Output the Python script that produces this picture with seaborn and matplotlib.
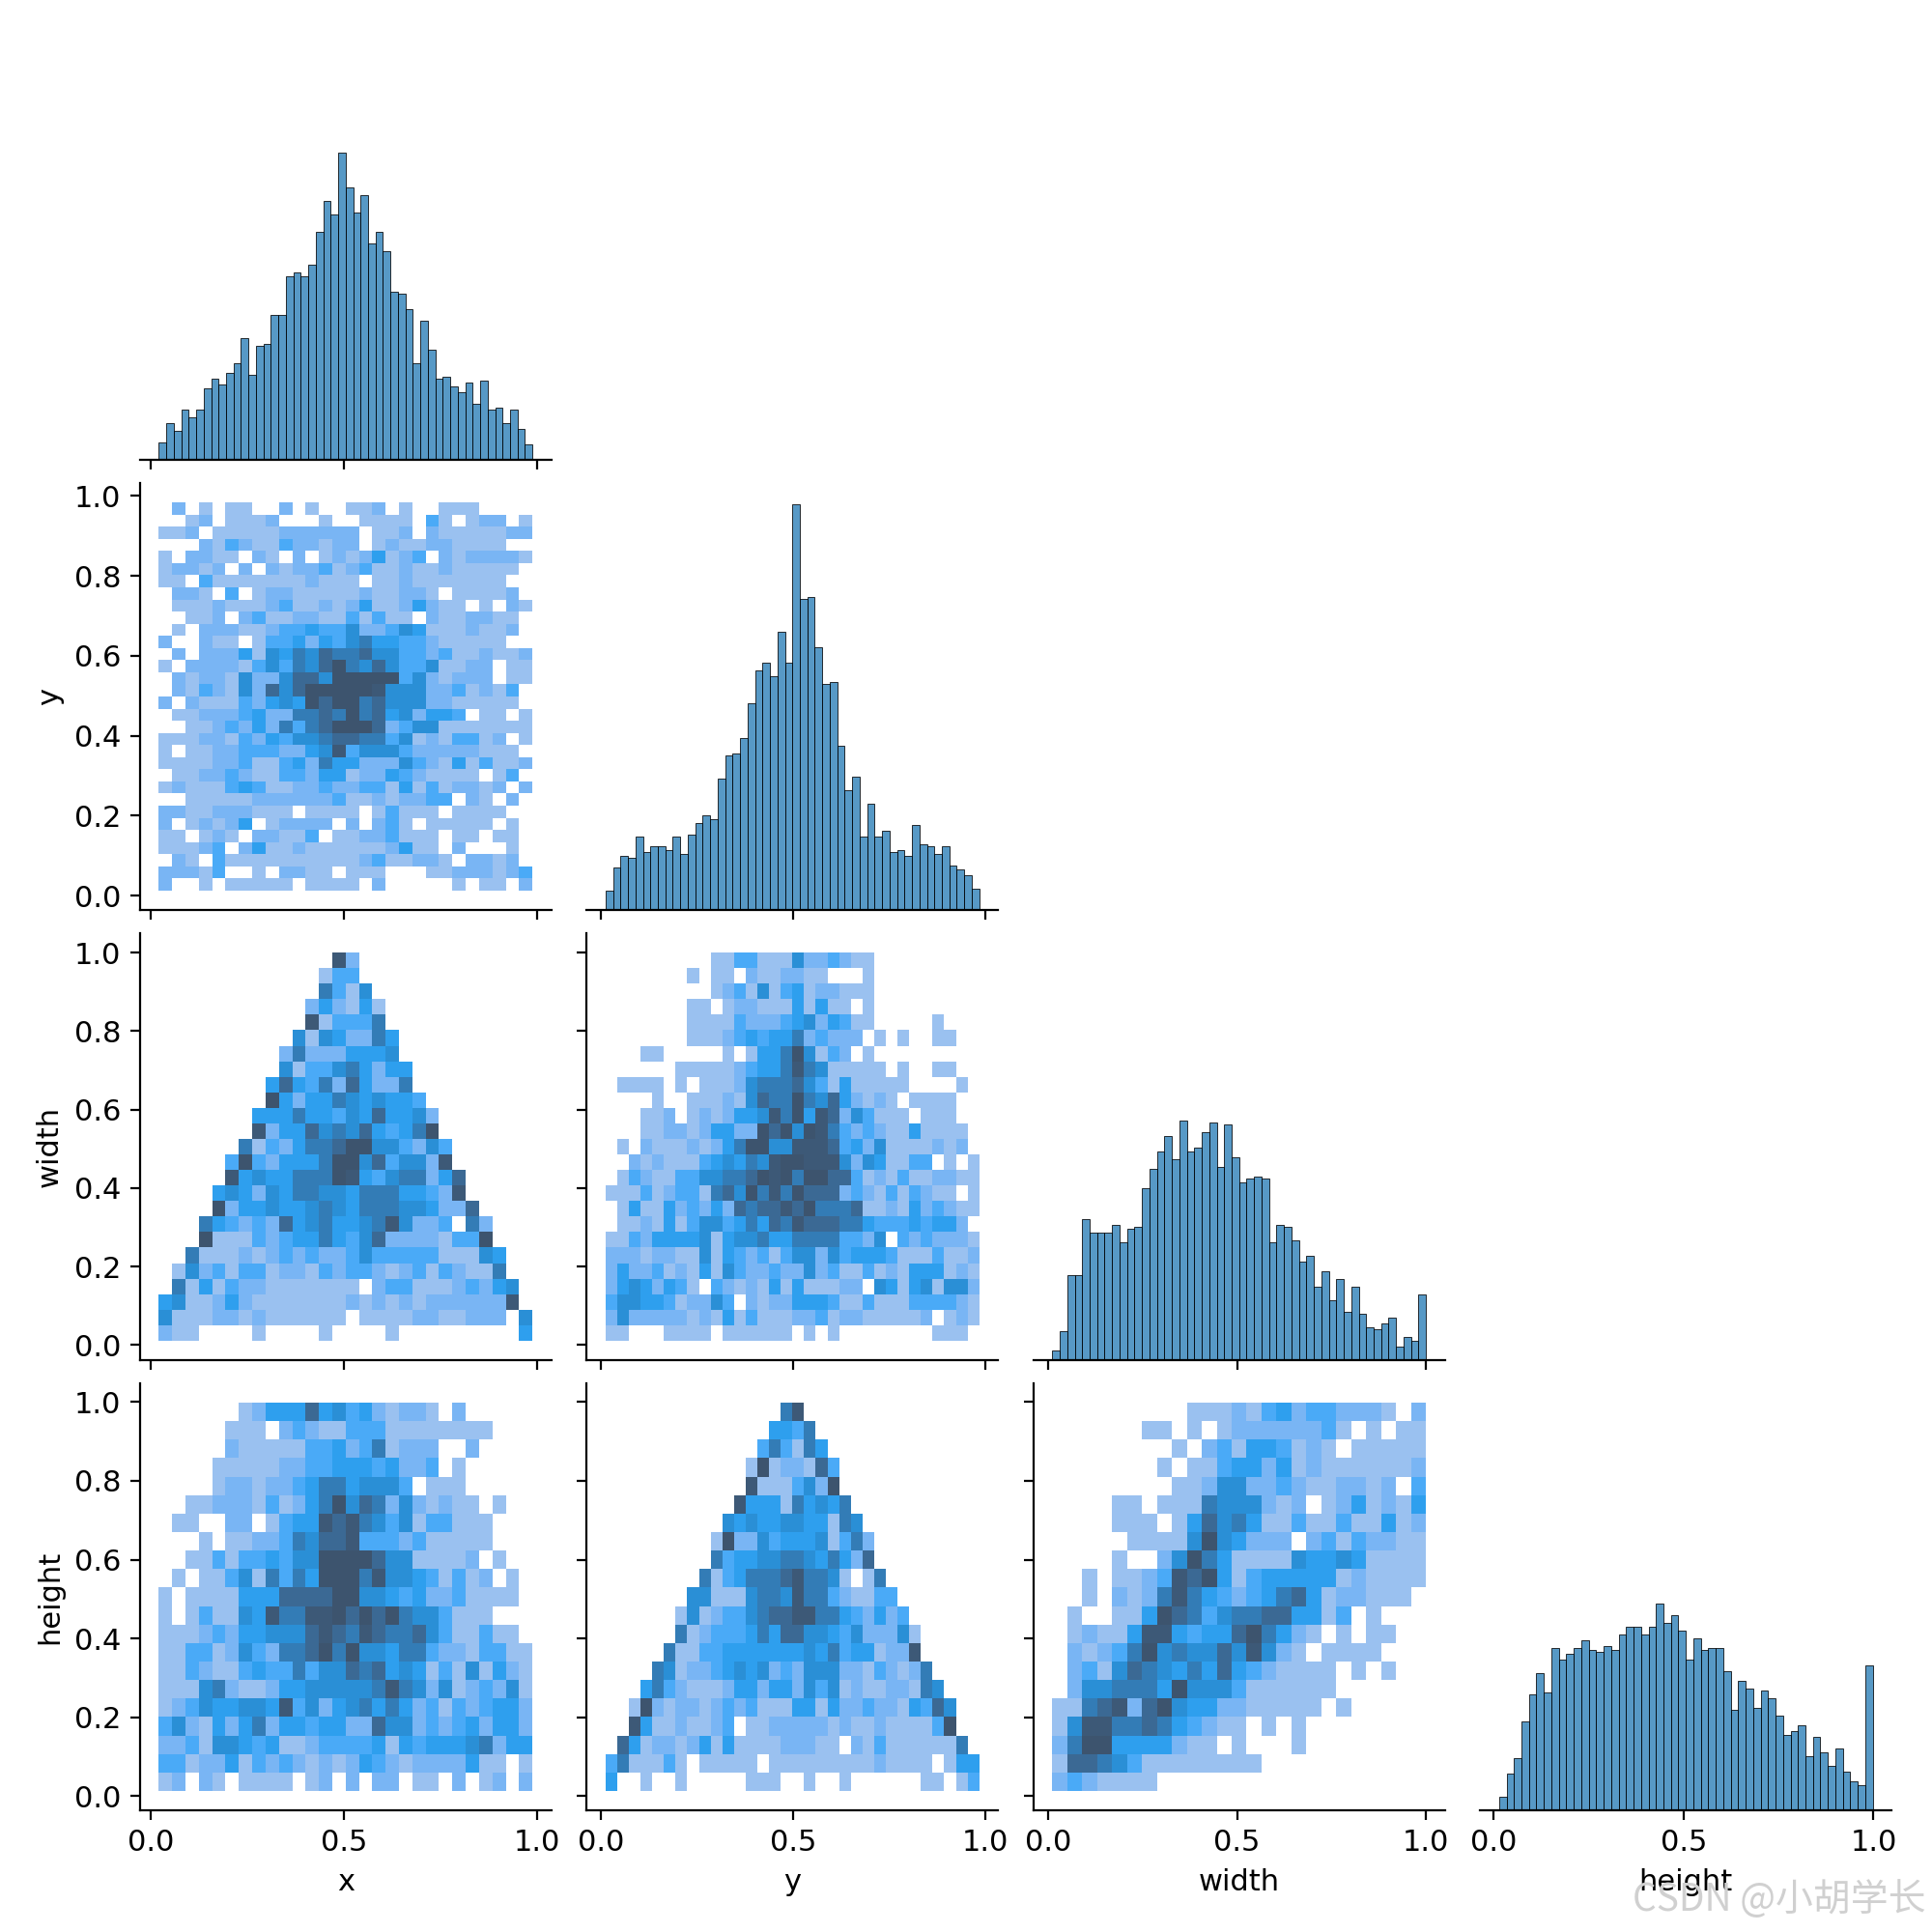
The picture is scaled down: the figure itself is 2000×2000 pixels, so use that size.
import numpy as np
import matplotlib
matplotlib.use("Agg")
import matplotlib.pyplot as plt
import seaborn as sns

plt.rcParams["font.size"] = 11

variables = ["x", "y", "width", "height"]

# bin ranges
bin_range = {"x": (0.020, 0.989), "y": (0.0126, 0.984), "width": (0.011, 1.0), "height": (0.0136, 0.998)}
# number of 2D bins per variable
grid_bins = {"x": 28, "y": 32, "width": 25, "height": 21}

# diagonal histograms, 50 bins
x_counts = [9,19,15,26,22,26,37,42,39,45,50,63,44,59,60,75,75,95,97,95,101,118,134,127,159,141,128,137,112,118,108,87,86,78,50,72,57,42,43,38,35,40,29,41,26,27,19,26,16,8]
y_counts = [10,22,28,27,38,30,33,33,31,38,29,39,45,49,47,68,80,81,89,107,124,128,121,144,128,210,161,162,136,117,118,85,62,69,38,55,38,41,30,31,28,44,34,33,29,33,23,21,18,11]
width_counts = [5,15,44,44,73,66,66,66,70,61,68,69,89,99,108,116,104,124,108,110,118,123,100,122,105,92,94,95,94,61,70,69,62,51,54,38,46,31,42,25,38,24,17,16,19,22,7,12,10,34]
height_counts = [7,19,27,46,60,71,61,84,78,81,84,88,83,82,85,83,91,95,95,91,95,107,97,101,93,78,89,83,84,84,72,52,67,63,53,62,58,49,39,41,44,28,38,30,23,32,20,15,13,75]

# shade read for each digit in the cell rows below
shade_levels = [0, 3, 8, 13, 17, 23, 30, 37, 43, 45]
shade_max = 45

# 2D cells, top row first, left to right
x_y = [
"0201011002010011201001110000",
"0012011120001001111031012201",
"1120111112222220112021111122",
"0002132113221220121122111100",
"1022110210201212412302122221",
"1221202021223123112112111110",
"1103111111121110112111111100",
"0221030122111112112210111120",
"0111211123112124112421101021",
"0011202311221131311021122110",
"0102221123343352235411121120",
"2002110133424356443321111100",
"0202224154657667553323112112",
"1022221353657965753351122011",
"0212215225775999993521222011",
"0213215275799999855522312130",
"2021113245497996755522111110",
"0112223422667696745244301101",
"0011232426367999723551111111",
"1112213243556776635121331201",
"1011223332245835553222221110",
"1111223113426442225321413112",
"0112232113324412243211110130",
"1211134311223223314131221202",
"0011111222222311212233021020",
"2211222111011110131110111100",
"2012124012222020231011111010",
"1101210221130112231110110110",
"1112302411211111124110200010",
"0210311111111112311221022120",
"2221300102211011100011222123",
"2001011111011110200000101102",
]
x_width = [
"000000000000082",
"000000000000133",
"0000000000006315",
"00000000000242141",
"00000000000813336",
"000000000051542264",
"000000000262224445",
"0000000005133564244",
"0000000047436274226",
"00000000942446545443",
"000000044464435474452",
"000000082447565743469",
"0000006132466799553253",
"0000039324446995735528",
"00000845446669843566247",
"00004542546655466644328",
"000092445445654666554227",
"0006432327456445685223062",
"0009111323446435722221339",
"00611121232322353333311154",
"01523133122132332123132116",
"061413221111111023311123245",
"451124211111112121212222228",
"5111221211111101111221122205",
"2110000100001000010000000004",
]
y_width = [
"00000000011331115223211",
"00000001011021122110001",
"00000000012315134122111",
"00000001101221114141101",
"00000001111322234524311000001",
"000000011123434462322201010011",
"00011000001014469513201",
"000000111112344686511111010011",
"0111101011125666753141111100001",
"000010011121576696574212101111",
"000112012124458694872531110111",
"0001122124422979598632321141111",
"0102111212469955888734251111212",
"00212111345465899888525411330101",
"01321133556679896997731213112211",
"11131233167596869777232131321101",
"01411423242767787966671121423211",
"01121413553464768777664333434420",
"11324444514556446666332503232221",
"22212211514323135525344431113112",
"24223121415322322523113121444121",
"24542431032121414111220541451552",
"35544312253021224443113111333321",
"25222221214131112231221111120121",
"11000111101111110101000000001110",
]
x_height = [
"00000012444745342122102",
"0000011102321133311111111",
"000002111113342361222002",
"00001111122334443422301",
"00001221223466455530111",
"00112221312469576252121101",
"0110022013448786535133111",
"0001011223657783332311111",
"00113133435599997551111201",
"010113516364999685543131201",
"101111444777799554342231111",
"1013115486688979796553111",
"111232445557876876675311311",
"1133125326679695546632213311",
"1132113433635576745413151421",
"1115621124455555686525123251",
"1235445548352456464231323442",
"3521424624434422755232342442",
"2231554341123333414344456244",
"3312241323212124321222241101",
"1202101111012020220110201202",
]
y_height = [
"00000000000000068",
"000000000000004436",
"0000000000000363164",
"00000000000019122173",
"00000000000081113529",
"000000000008444164546",
"0000000000545445544165",
"00000000019225344451362",
"00000000063445566546427",
"000000006134666786651016",
"0000000551115665866321133",
"00000015123356778866432423",
"000000612333464775543522251",
"000006113344444445463441228",
"0000651223454523255522132126",
"00046321112442442535121122165",
"001921221232311144142232214375",
"008411211230112222212112111139",
"0741221241411112221102131111116",
"36111310111110111111111211110144",
"40010010000011100100100000011013",
]
width_height = [
"0000000001112134233222102",
"0000001101012222223101011",
"0000000010231443121011111",
"0000000101134424121111112",
"0000000011255223211221203",
"0000110111655521201241214",
"0000111014756411311311412",
"0000011115954222023132211",
"0000100259641111544541111",
"0010112387941344444121111",
"0010212686432346741221110",
"0100114976356677441301",
"01211488434479642101011",
"0212369565575852101111",
"02315765464743211110101",
"0255666495553111111",
"11678279544221111101",
"15886676432110101",
"26994444211010001",
"17765311111111",
"2321111",
]

diag_counts = dict(zip(variables, [x_counts, y_counts, width_counts, height_counts]))
cell_rows = {
    ("x", "y"): x_y,
    ("x", "width"): x_width,
    ("y", "width"): y_width,
    ("x", "height"): x_height,
    ("y", "height"): y_height,
    ("width", "height"): width_height,
}


def edges(var, n):
    lo, hi = bin_range[var]
    return np.linspace(lo, hi, n + 1)


def lims(var):
    lo, hi = bin_range[var]
    pad = 0.05 * (hi - lo)
    return lo - pad, hi + pad


fig, axes = plt.subplots(4, 4, figsize=(10, 10), dpi=200)
fig.subplots_adjust(left=145 / 2000, right=1958 / 2000, top=1 - 34 / 2000, bottom=1 - 1874 / 2000,
                    wspace=37 / 426, hspace=24 / 442)

for r, vy in enumerate(variables):
    for c, vx in enumerate(variables):
        ax = axes[r, c]
        if c > r:
            ax.remove()
            continue

        if c == r:
            counts = diag_counts[vx]
            e = edges(vx, len(counts))
            sns.histplot(x=(e[:-1] + e[1:]) / 2, weights=counts, bins=e.tolist(), ax=ax)
            ax.set_ylim(0, 221)
            ax.set_yticks([])
            ax.set_ylabel("")
            sns.despine(ax=ax, left=True)
        else:
            rows = cell_rows[(vx, vy)]
            nx, ny = grid_bins[vx], grid_bins[vy]
            ex, ey = edges(vx, nx), edges(vy, ny)
            cx = (ex[:-1] + ex[1:]) / 2
            cy = (ey[:-1] + ey[1:]) / 2
            w = np.array([[shade_levels[int(ch)] for ch in row.ljust(nx, "0")[:nx]] for row in rows[::-1]], dtype=float)
            xx, yy = np.meshgrid(cx, cy)
            sns.histplot(x=xx.ravel(), y=yy.ravel(), weights=w.ravel(), bins=[ex, ey],
                         vmin=0, vmax=shade_max, ax=ax)
            ax.set_ylim(*lims(vy))
            ax.set_yticks([0.0, 0.2, 0.4, 0.6, 0.8, 1.0])
            sns.despine(ax=ax)

        ax.set_xlim(*lims(vx))
        ax.set_xticks([0.0, 0.5, 1.0])
        ax.set_xlabel(vx if r == 3 else "")
        if r != 3:
            ax.set_xticklabels([])
        if c == 0 and r > 0:
            ax.set_ylabel(vy)
        else:
            ax.set_ylabel("")
            if c != r:
                ax.set_yticklabels([])

fig.text(1842 / 2000, 1 - 1967 / 2000, "CSDN @小胡学长", color="#d0d0d0", fontsize=14, ha="center", va="center",
         family=["Noto Sans CJK SC", "DejaVu Sans"])

fig.savefig("out.png", dpi=200)
